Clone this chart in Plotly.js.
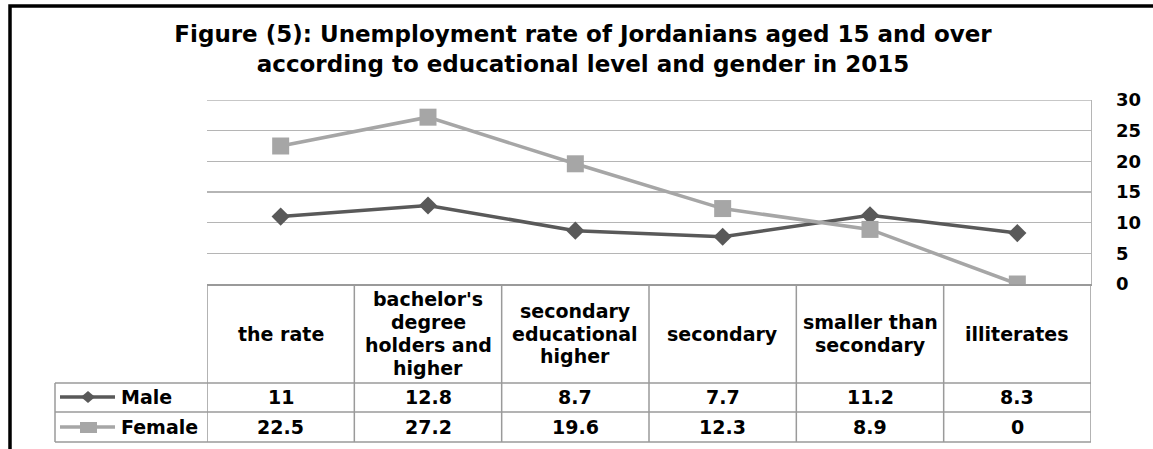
<!DOCTYPE html>
<html><head><meta charset="utf-8">
<script src="https://cdn.plot.ly/plotly-3.0.1.min.js"></script>
<style>html,body{margin:0;padding:0;background:#fff;overflow:hidden}</style>
</head><body>
<div id="chart" style="width:1153px;height:449px"></div>
<script>
// ---- data ----
const categories = ["the rate", "bachelor's degree holders and higher", "secondary educational higher", "secondary", "smaller than secondary", "illiterates"];
const categoryLabels = ["the rate", "bachelor's<br>degree<br>holders and<br>higher", "secondary<br>educational<br>higher", "secondary", "smaller than<br>secondary", "illiterates"];
const maleValues = [11, 12.8, 8.7, 7.7, 11.2, 8.3];
const femaleValues = [22.5, 27.2, 19.6, 12.3, 8.9, 0];
const seriesNames = ["Male", "Female"];
const yTicks = [0, 5, 10, 15, 20, 25, 30];
const titleLines = ["Figure (5): Unemployment rate of Jordanians aged 15 and over", "according to educational level and gender in 2015"];

// ---- layout helpers (pixel -> paper) ----
const W = 1153, H = 449;
const L = 207, R = 1091, T = 100, B = 284;
const xp = x => (x - L) / (R - L);
const yp = y => (B - y) / (B - T);
const FONT = "DejaVu Sans";
const tableLine = {color: "#9a9a9a", width: 1.5};
const maleColor = "#595959", femaleColor = "#A6A6A6";

const traces = [
  {x: categories, y: maleValues, name: seriesNames[0], type: "scatter", mode: "lines+markers",
   line: {color: maleColor, width: 3.5}, marker: {symbol: "diamond", size: 14, color: maleColor}},
  {x: categories, y: femaleValues, name: seriesNames[1], type: "scatter", mode: "lines+markers",
   line: {color: femaleColor, width: 3.5}, marker: {symbol: "square", size: 17, color: femaleColor}}
];

const shapes = [];
// outer frame (cut by the page on right and bottom)
shapes.push({type: "rect", xref: "paper", yref: "paper", x0: xp(10), x1: xp(1175), y0: yp(6), y1: yp(480),
  line: {color: "#000", width: 3.5}});
// top gridline at the max tick
shapes.push({type: "line", xref: "paper", yref: "y", x0: 0, x1: 1, y0: yTicks[yTicks.length - 1], y1: yTicks[yTicks.length - 1],
  line: {color: "#b5b5b5", width: 1.3}, layer: "below"});
// table verticals at category boundaries
for (let i = 0; i <= categories.length; i++) {
  shapes.push({type: "line", xref: "x", yref: "paper", x0: i - 0.5, x1: i - 0.5, y0: yp(284), y1: yp(442), line: tableLine});
}
// table horizontals
[383, 412, 442].forEach(y => shapes.push({type: "line", xref: "paper", yref: "paper", x0: xp(55), x1: 1, y0: yp(y), y1: yp(y), line: tableLine}));
shapes.push({type: "line", xref: "paper", yref: "paper", x0: xp(55), x1: xp(55), y0: yp(383), y1: yp(442), line: tableLine});

// legend keys inside the table
const rowY = [397, 427];
rowY.forEach((y, k) => {
  const c = k === 0 ? maleColor : femaleColor;
  shapes.push({type: "line", xref: "paper", yref: "paper", x0: xp(60), x1: xp(115), y0: yp(y), y1: yp(y), line: {color: c, width: 3.5}});
});
shapes.push({type: "path", xref: "paper", yref: "paper", fillcolor: maleColor, line: {width: 0},
  path: `M${xp(81)},${yp(397)} L${xp(88)},${yp(391)} L${xp(95)},${yp(397)} L${xp(88)},${yp(403)} Z`});
shapes.push({type: "rect", xref: "paper", yref: "paper", fillcolor: femaleColor, line: {width: 0},
  x0: xp(80), x1: xp(97), y0: yp(422), y1: yp(433)});

const annotations = [];
const cellFont = {family: FONT, size: 19, color: "#000", weight: "bold"};
categories.forEach((c, i) => {
  const lines = categoryLabels[i].split("<br>");
  lines.forEach((ln, k) => {
    const cy = 333.5 + (k - (lines.length - 1) / 2) * 22.7;
    annotations.push({xref: "x", yref: "paper", x: c, y: yp(cy), text: ln, showarrow: false,
      font: cellFont, xanchor: "center", yanchor: "middle"});
  });
  annotations.push({xref: "x", yref: "paper", x: c, y: yp(rowY[0]), text: String(maleValues[i]), showarrow: false,
    font: cellFont, xanchor: "center", yanchor: "middle"});
  annotations.push({xref: "x", yref: "paper", x: c, y: yp(rowY[1]), text: String(femaleValues[i]), showarrow: false,
    font: cellFont, xanchor: "center", yanchor: "middle"});
});
seriesNames.forEach((n, k) => {
  annotations.push({xref: "paper", yref: "paper", x: xp(119), y: yp(rowY[k]), text: n, showarrow: false,
    font: cellFont, xanchor: "left", yanchor: "middle"});
});

const layout = {
  width: W, height: H,
  margin: {l: L, r: W - R, t: T, b: H - B, pad: 0},
  paper_bgcolor: "#fff", plot_bgcolor: "#fff",
  title: {text: titleLines.join("<br>"), font: {family: FONT, size: 23, color: "#000", weight: "bold"},
    xref: "container", yref: "container", x: 583 / W, xanchor: "center", y: 1 - 42 / H, yanchor: "top"},
  xaxis: {type: "category", range: [-0.5, categories.length - 0.5], showticklabels: false, showgrid: false,
    showline: true, linecolor: "#9a9a9a", linewidth: 1.5, ticks: "", zeroline: false, fixedrange: true},
  yaxis: {side: "right", range: [0, 30], tickvals: yTicks, ticktext: yTicks.map(String), showgrid: true,
    gridcolor: "#b5b5b5", gridwidth: 1.3, showline: true, linecolor: "#b5b5b5", linewidth: 1.3, zeroline: false,
    ticks: "", ticklabelstandoff: 20, tickfont: {family: FONT, size: 18, color: "#000", weight: "bold"}, fixedrange: true},
  showlegend: false,
  shapes: shapes,
  annotations: annotations
};

Plotly.newPlot("chart", traces, layout, {displayModeBar: false, staticPlot: true});
</script>
</body></html>
